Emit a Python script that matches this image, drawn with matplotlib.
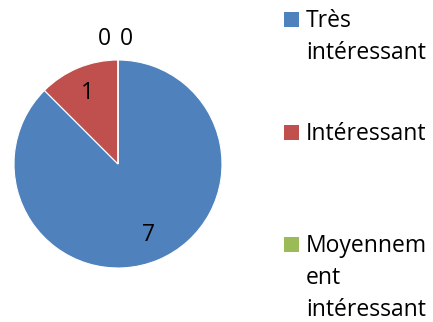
import numpy as np
import matplotlib
matplotlib.use("Agg")
import matplotlib.pyplot as plt
from matplotlib.patches import Rectangle

plt.rcParams['font.family'] = ['Open Sans', 'DejaVu Sans']

# answers per category
categories = ["Très\nintéressant", "Intéressant", "Moyennem\nent\nintéressant", "Peu intéressant"]
values = [7, 1, 0, 0]
colors = ["#4F81BD", "#C0504D", "#9BBB59", "#8064A2"]

W, H = 433, 322
fig = plt.figure(figsize=(W / 100, H / 100), dpi=100)
cx, cy, r = 118, 164, 104
ax = fig.add_axes([(cx - r) / W, (H - cy - r) / H, 2 * r / W, 2 * r / H])

wedges, _ = ax.pie(values, colors=colors, startangle=90, counterclock=False,
                   radius=1, wedgeprops=dict(edgecolor="white", linewidth=0.8))
ax.set_xlim(-1, 1)
ax.set_ylim(-1, 1)
ax.set_aspect("equal")
ax.axis("off")

fs = 16.5

# value labels: inside for non-empty slices, above the top for empty ones
zero_shift = [-0.13, 0.08]
k = 0
for w, v in zip(wedges, values):
    mid = np.deg2rad((w.theta1 + w.theta2) / 2)
    if v > 0:
        x, y = 0.76 * np.cos(mid), 0.74 * np.sin(mid)
    else:
        x, y = zero_shift[k], 1.2
        k += 1
    ax.text(x, y, str(v), ha="center", va="center", fontsize=fs, clip_on=False)

# legend drawn by hand (only the first three entries fit)
first_baseline = [27, 140, 252]
line_step = 32
for lab, col, b in zip(categories[:3], colors[:3], first_baseline):
    sq_top = b - 15
    fig.patches.append(Rectangle((284 / W, 1 - (sq_top + 15) / H), 15 / W, 15 / H,
                                 transform=fig.transFigure, facecolor=col, edgecolor="none"))
    for i, line in enumerate(lab.split("\n")):
        fig.text(306 / W, 1 - (b + i * line_step) / H, line, fontsize=fs,
                 ha="left", va="baseline")

fig.savefig("out.png", dpi=100)
